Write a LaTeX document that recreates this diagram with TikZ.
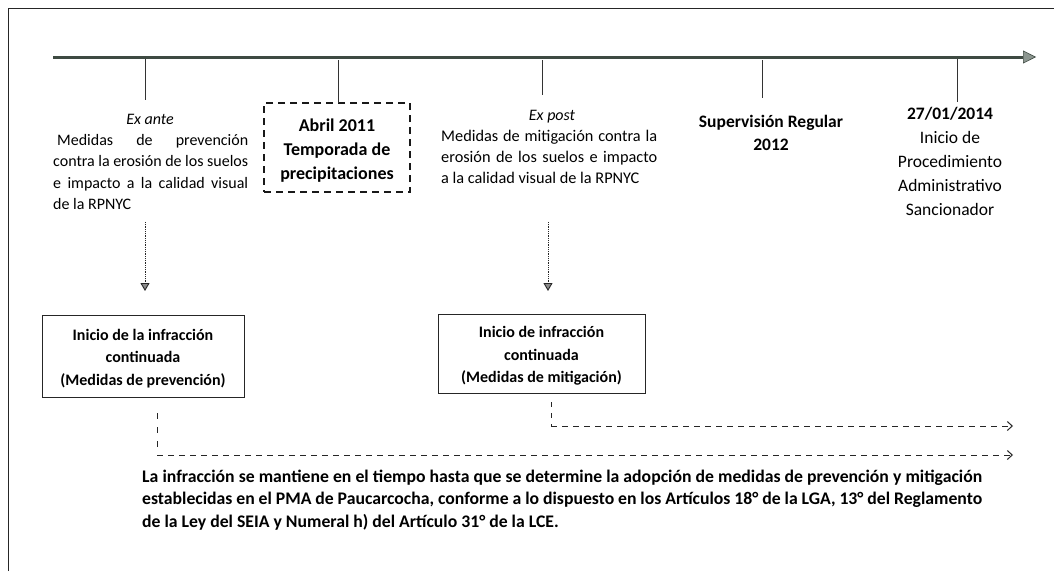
\documentclass[tikz,border=0pt]{standalone}
\usepackage{fontspec}
\setmainfont{Carlito}
\usetikzlibrary{arrows.meta}
\definecolor{tlcol}{HTML}{3E4A42}
\definecolor{tipfill}{HTML}{8C9690}
\newcommand\ptxt[3]{\parbox[t]{#1}{#2#3}}
\newcommand\jl[2]{\makebox[#1][s]{#2}}
\tikzset{
  txt/.style={inner sep=0pt, anchor=base},
  tick/.style={draw=black!80, line width=0.6pt},
  dotarrow/.style={draw=black!85, line width=0.8pt, densely dotted, -{Triangle[length=8pt, width=9pt, fill=black!45, line width=0.9pt]}},
  dashline/.style={draw=black!85, line width=1pt, dash pattern=on 6pt off 5pt},
  vdashline/.style={draw=black!85, line width=1pt, dash pattern=on 6pt off 8pt},
  dasharrow/.style={dashline, -{Straight Barb[length=5pt, width=9pt, line width=1pt]}},
  infbox/.style={draw=black!85, line width=1pt, align=center, font=\fontsize{16}{22.5}\selectfont\bfseries, inner sep=0pt},
}
\begin{document}
\begin{tikzpicture}[x=1pt, y=-1pt]
\useasboundingbox (0,0) rectangle (1054,571);
\fill[white] (0,0) rectangle (1054,571);
% frame
\draw[line width=1pt, black!85] (8,571) -- (8,8) -- (1054,8);
% timeline
\coordinate (t0) at (53,57);
\coordinate (t1) at (1036,57);
\draw[line width=3pt, draw=tlcol, -{Triangle[length=13pt, width=13pt, fill=tipfill, line width=0.6pt]}] (t0) -- (t1);

% texts
\node[txt] (exante) at (150,124) {\fontsize{16}{21.5}\selectfont\itshape Ex ante};
\node[txt, anchor=base west] (exantetxt) at (53,145) {\fontsize{16}{21.6}\selectfont\ptxt{195pt}{\raggedright}{\hspace*{4pt}\jl{191pt}{Medidas de prevención}\\\jl{195pt}{contra la erosión de los suelos}\\\jl{195pt}{e impacto a la calidad visual}\\de la RPNYC}};

\node[draw=black!90, line width=2pt, dash pattern=on 7pt off 5pt, minimum width=146pt, minimum height=89pt, inner sep=0pt] (abril) at (337,147.5) {};
\node[txt] (abriltxt) at (337,131) {\fontsize{18}{24}\selectfont\bfseries\ptxt{140pt}{\centering}{Abril 2011\\Temporada de\\precipitaciones}};

\node[txt] (expost) at (552,120) {\fontsize{16}{21}\selectfont\itshape Ex post};
\node[txt, anchor=base west] (exposttxt) at (441,141) {\fontsize{16.3}{21}\selectfont\ptxt{216pt}{\raggedright}{\jl{216pt}{Medidas de mitigación contra la}\\\jl{216pt}{erosión de los suelos e impacto}\\a la calidad visual de la RPNYC}};

\node[txt] (superv) at (771,127) {\fontsize{17.5}{23}\selectfont\bfseries\ptxt{170pt}{\centering}{Supervisión Regular\\2012}};

\node[txt] (fecha) at (950,119) {\fontsize{17.5}{24}\selectfont\ptxt{120pt}{\centering}{\textbf{27/01/2014}\\Inicio de\\Procedimiento\\Administrativo\\Sancionador}};

% ticks
\coordinate (k1a) at (145,59);  \coordinate (k1b) at (145,100);
\coordinate (k2a) at (338,60);  \coordinate (k2b) at (338,103);
\coordinate (k3a) at (542,60);  \coordinate (k3b) at (542,95);
\coordinate (k4a) at (762,60);  \coordinate (k4b) at (762,98);
\coordinate (k5a) at (957,59);  \coordinate (k5b) at (957,102);
\draw[tick] (k1a) -- (k1b);
\draw[tick] (k2a) -- (k2b);
\draw[tick] (k3a) -- (k3b);
\draw[tick] (k4a) -- (k4b);
\draw[tick] (k5a) -- (k5b);

% boxes
\node[infbox, minimum width=202pt, minimum height=82pt] (box1) at (143,356) {\strut Inicio de la infracción\\continuada\\(Medidas de prevención)};
\node[infbox, minimum width=207pt, minimum height=79pt] (box2) at (541.5,353.5) {\strut Inicio de infracción\\continuada\\(Medidas de mitigación)};

% dotted arrows
\coordinate (d1a) at (145,222);
\coordinate (d1b) at (145,291);
\coordinate (d2a) at (548,222);
\coordinate (d2b) at (548,291);
\draw[dotarrow] (d1a) -- (d1b);
\draw[dotarrow] (d2a) -- (d2b);

% dashed connectors
\coordinate (c1a) at (157,413);
\coordinate (c1b) at (157,455);
\coordinate (c1e) at (1013,455);
\coordinate (c2a) at (551,402);
\coordinate (c2b) at (551,426);
\coordinate (c2e) at (1013,426);
\draw[vdashline] (c1a) -- (c1b);
\draw[dasharrow] (c1b) -- (c1e);
\draw[vdashline, dash pattern=on 5pt off 6pt] (c2a) -- (c2b);
\draw[dasharrow] (c2b) -- (c2e);

% bottom text
\node[txt, anchor=base west] (bottom) at (142,482) {\fontsize{17.7}{22.5}\selectfont\bfseries\ptxt{840pt}{\raggedright}{\jl{840pt}{La infracción se mantiene en el tiempo hasta que se determine la adopción de medidas de prevención y mitigación}\\\jl{840pt}{establecidas en el PMA de Paucarcocha, conforme a lo dispuesto en los Artículos 18° de la LGA, 13° del Reglamento}\\de la Ley del SEIA y Numeral h) del Artículo 31° de la LCE.}};
\end{tikzpicture}
\end{document}
